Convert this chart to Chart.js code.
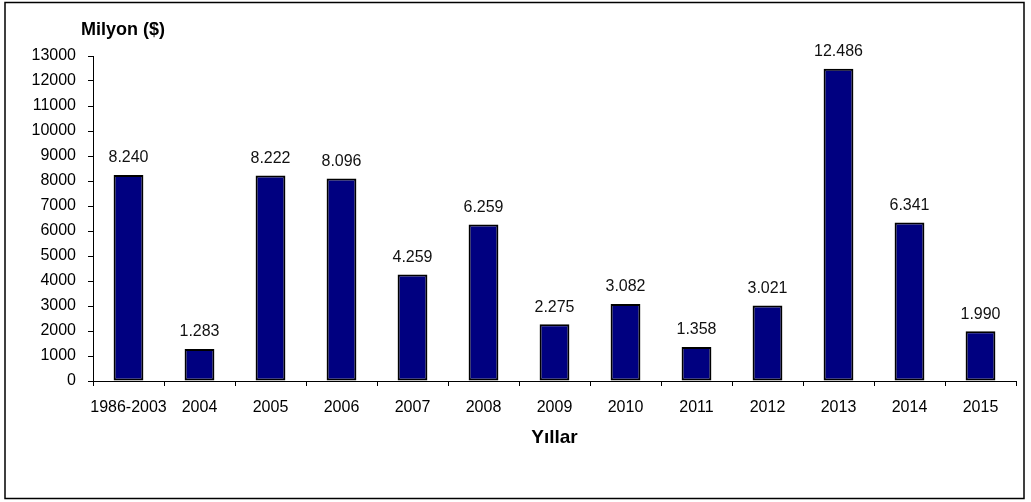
<!DOCTYPE html>
<html>
<head>
<meta charset="utf-8">
<script src="https://cdn.jsdelivr.net/npm/chart.js@4"></script>
<style>
  body { margin: 0; background: #fff; }
  #wrap { position: relative; width: 1031px; height: 502px; }
</style>
</head>
<body>
<div id="wrap"><canvas id="myChart" width="1031" height="502"></canvas></div>
<script>
var years = ['1986-2003', '2004', '2005', '2006', '2007', '2008', '2009', '2010', '2011', '2012', '2013', '2014', '2015'];
var amounts = [8240, 1283, 8222, 8096, 4259, 6259, 2275, 3082, 1358, 3021, 12486, 6341, 1990];
var yMax = 13000;
var yStep = 1000;

var fontFamily = '"Liberation Sans", Arial, sans-serif';

// turkish style thousands separator
function formatValue(v) {
    return String(v).replace(/\B(?=(\d{3})+(?!\d))/g, '.');
}

var extras = {
    id: 'extras',
    beforeDraw: function (chart) {
        var ctx = chart.ctx;
        ctx.save();
        ctx.fillStyle = '#fff';
        ctx.fillRect(0, 0, chart.width, chart.height);
        ctx.restore();
    },
    afterDraw: function (chart) {
        var ctx = chart.ctx;
        ctx.save();
        // outer frame
        ctx.strokeStyle = '#000';
        ctx.lineWidth = 1.5;
        ctx.strokeRect(5, 2.5, 1019, 496);
        // y axis caption
        ctx.fillStyle = '#000';
        ctx.font = 'bold 18px ' + fontFamily;
        ctx.textAlign = 'center';
        ctx.textBaseline = 'middle';
        ctx.fillText('Milyon ($)', 123, 30);
        // value labels
        ctx.font = '16px ' + fontFamily;
        ctx.fillStyle = '#111';
        ctx.textBaseline = 'bottom';
        var meta = chart.getDatasetMeta(0);
        meta.data.forEach(function (bar, i) {
            ctx.fillText(formatValue(amounts[i]), bar.x, bar.y - 9);
        });
        ctx.restore();
    }
};

var ctx = document.getElementById('myChart').getContext('2d');
new Chart(ctx, {
    type: 'bar',
    data: {
        labels: years,
        datasets: [{
            label: 'Milyon ($)',
            data: amounts,
            backgroundColor: '#000080',
            borderColor: '#000',
            borderWidth: 2,
            borderSkipped: false,
            categoryPercentage: 1,
            barPercentage: 0.42
        }]
    },
    options: {
        responsive: false,
        animation: false,
        layout: { padding: { left: 0, top: 56, right: 15, bottom: 49 } },
        plugins: {
            legend: { display: false },
            tooltip: { enabled: false }
        },
        scales: {
            x: {
                offset: true,
                grid: { offset: true, drawOnChartArea: false, drawTicks: true, tickLength: 5, color: '#000' },
                border: { display: true, color: '#000', width: 1 },
                ticks: { color: '#000', font: { family: fontFamily, size: 16 }, padding: 12, maxRotation: 0, autoSkip: false },
                title: { display: true, text: 'Yıllar', color: '#000', font: { family: fontFamily, size: 19, weight: 'bold' }, padding: { top: 4, bottom: 4 } },
                afterFit: function (scale) { scale.height = 72; }
            },
            y: {
                min: 0,
                max: yMax,
                grid: { drawOnChartArea: false, drawTicks: true, tickLength: 5, color: '#000' },
                border: { display: true, color: '#000', width: 1 },
                ticks: {
                    stepSize: yStep,
                    color: '#000',
                    font: { family: fontFamily, size: 16 },
                    padding: 12,
                    callback: function (v) { return String(v); }
                },
                afterFit: function (scale) { scale.width = 93; }
            }
        }
    },
    plugins: [extras]
});
</script>
</body>
</html>
